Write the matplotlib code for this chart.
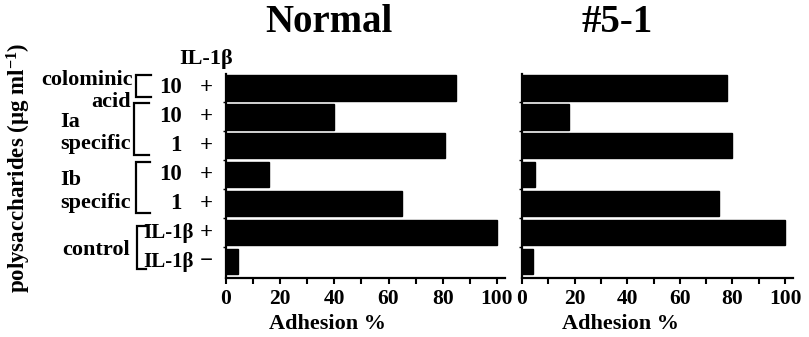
import matplotlib
matplotlib.use("Agg")
import matplotlib.pyplot as plt
import matplotlib.transforms as mtransforms
import numpy as np

# ---- data ----
rows = ["colominic 10 +", "Ia 10 +", "Ia 1 +", "Ib 10 +", "Ib 1 +", "control IL-1b +", "control IL-1b -"]
normal_vals = [85, 40, 81, 16, 65, 100, 4.5]
clone_vals = [78, 18, 80, 5, 75, 100, 4]
dose_labels = ["10", "10", "1", "10", "1", "IL-1β", "IL-1β"]
il1b_labels = ["+", "+", "+", "+", "+", "+", "−"]
panel_titles = ["Normal", "#5-1"]
xticks = [0, 20, 40, 60, 80, 100]

plt.rcParams['font.family'] = ['Liberation Serif', 'DejaVu Serif']
plt.rcParams['font.weight'] = 'bold'
plt.rcParams['mathtext.fontset'] = 'custom'
plt.rcParams['mathtext.rm'] = 'Liberation Serif:bold'
plt.rcParams['mathtext.it'] = 'Liberation Serif:bold'
plt.rcParams['mathtext.bf'] = 'Liberation Serif:bold'

W, H = 809, 337
fig = plt.figure(figsize=(W / 100, H / 100), dpi=100)

def fx(px):
    return px / W

def fy(py):
    return 1 - py / H

top_px, bot_px = 74, 278
axL = fig.add_axes([fx(226), fy(bot_px), fx(505) - fx(226), fy(top_px) - fy(bot_px)])
axR = fig.add_axes([fx(522), fy(bot_px), fx(793) - fx(522), fy(top_px) - fy(bot_px)])

y = np.arange(len(rows))
for ax, vals, lx in [(axL, normal_vals, 0.365), (axR, clone_vals, 0.365)]:
    ax.barh(y, vals, height=0.88, color='black', edgecolor='black')
    ax.set_ylim(6.57, -0.48)
    ax.set_xlim(0, 103)
    for s in ['top', 'right']:
        ax.spines[s].set_visible(False)
    ax.spines['left'].set_linewidth(1.6)
    ax.spines['bottom'].set_linewidth(1.6)
    ax.set_xticks(xticks)
    ax.set_xticks([10, 30, 50, 70, 90], minor=True)
    ax.set_xticklabels([str(t) for t in xticks], fontsize=15.5, fontweight='bold')
    ax.tick_params(axis='x', which='both', direction='out', length=4, width=1.5, pad=4)
    ax.set_yticks(np.arange(len(rows) - 1) + 0.5)
    ax.set_yticklabels([])
    ax.tick_params(axis='y', which='both', direction='out', length=2.5, width=1.0)
    ax.set_xlabel("Adhesion %", fontsize=16, fontweight='bold')
    ax.xaxis.set_label_coords(lx, -0.175)

# titles
fig.text(fx(329), fy(23), panel_titles[0], fontsize=28, fontweight='bold', ha='center', va='center')
fig.text(fx(617), fy(23), panel_titles[1], fontsize=28, fontweight='bold', ha='center', va='center')

# y label
fig.text(fx(19), fy(168), r"polysaccharides (μg ml$^{\mathrm{-1}}$)", fontsize=16.5, fontweight='bold',
         rotation=90, ha='center', va='center')

tr = mtransforms.blended_transform_factory(fig.transFigure, axL.transData)
fs = 16
# header
axL.text(fx(179), -1.0, "IL-1β", transform=tr, fontsize=fs, fontweight='bold', ha='left', va='center', clip_on=False)
# dose labels and +/- signs
for i, (d, s) in enumerate(zip(dose_labels, il1b_labels)):
    if d.startswith("IL"):
        axL.text(fx(194), i, d, transform=tr, fontsize=15, fontweight='bold', ha='right', va='center', clip_on=False)
    else:
        axL.text(fx(182), i, d, transform=tr, fontsize=16.5, fontweight='bold', ha='right', va='center', clip_on=False)
    axL.text(fx(206), i, s, transform=tr, fontsize=16.5, fontweight='bold', ha='center', va='center', clip_on=False)

# group labels
axL.text(fx(133), -0.28, "colominic", transform=tr, fontsize=fs, fontweight='bold', ha='right', va='center')
axL.text(fx(131), 0.5, "acid", transform=tr, fontsize=fs, fontweight='bold', ha='right', va='center')
axL.text(fx(60), 1.18, "Ia", transform=tr, fontsize=fs, fontweight='bold', ha='left', va='center')
axL.text(fx(60), 1.94, "specific", transform=tr, fontsize=fs, fontweight='bold', ha='left', va='center')
axL.text(fx(60), 3.18, "Ib", transform=tr, fontsize=fs, fontweight='bold', ha='left', va='center')
axL.text(fx(60), 3.98, "specific", transform=tr, fontsize=fs, fontweight='bold', ha='left', va='center')
axL.text(fx(130), 5.6, "control", transform=tr, fontsize=fs, fontweight='bold', ha='right', va='center')

# brackets
brackets = [(-0.45, 0.31, 136, 151), (0.52, 2.32, 134, 149), (2.56, 4.33, 136, 150), (4.78, 6.26, 137, 146)]
for y0, y1, xv, xh in brackets:
    axL.plot([fx(xh), fx(xv), fx(xv), fx(xh)], [y0, y0, y1, y1], transform=tr, color='black',
             lw=1.6, clip_on=False, solid_joinstyle='miter')

fig.savefig("out.png", dpi=100)
